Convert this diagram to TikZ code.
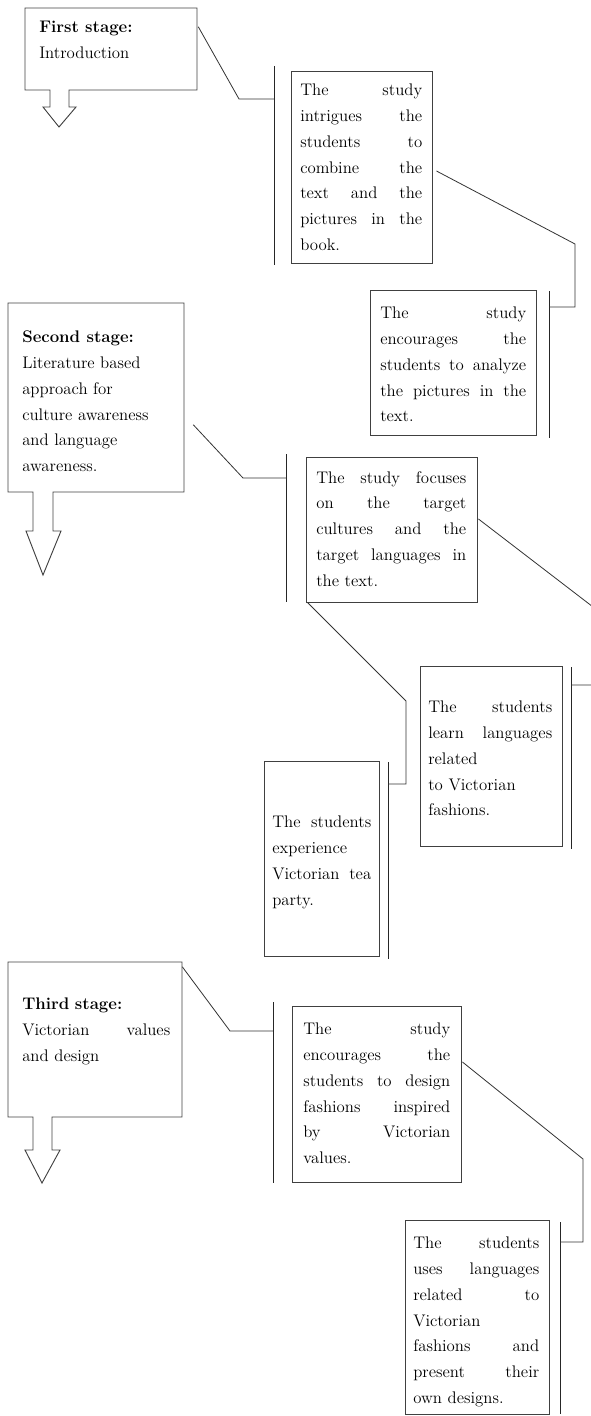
\documentclass[tikz,border=0pt]{standalone}
\usetikzlibrary{fit,calc}
\newcommand\jline[1]{\makebox[\hsize][s]{\spaceskip=.3333em plus 1fil\relax #1}}
\begin{document}
\begin{tikzpicture}[x=0.75pt,y=-0.75pt,
  frame/.style={draw=black!75, line width=0.7pt},
  box/.style={frame, inner sep=0pt},
  area/.style={inner sep=0pt},
  link/.style={draw=black!80, line width=0.6pt},
  bar/.style={draw=black!85, line width=0.7pt},
  txt/.style={anchor=north west, inner sep=0pt, align=left, font=\fontsize{12.6}{19.3}\selectfont},
  ]
\clip (0,0) rectangle (591,1416);

% ---------- stage boxes (box + arrow outline) ----------
\draw[frame] (25,8) -- (197,8) -- (197,90) -- (69,90) -- (69,107) -- (76,107) -- (59,127) -- (43,107) -- (50,107) -- (50,90) -- (25,90) -- cycle;
\node[area, fit={(25,8)(197,90)}] (s1) {};
\draw[frame] (8,303) -- (184,303) -- (184,492) -- (53,492) -- (53,531) -- (61,531) -- (43,575) -- (26,531) -- (33,531) -- (33,492) -- (8,492) -- cycle;
\node[area, fit={(8,303)(184,492)}] (s4) {};
\draw[frame] (8,962) -- (182,962) -- (182,1117) -- (52,1117) -- (52,1150) -- (60,1150) -- (42,1183) -- (25,1150) -- (33,1150) -- (33,1117) -- (8,1117) -- cycle;
\node[area, fit={(8,962)(182,1117)}] (s8) {};

% ---------- plain boxes ----------
\node[box, fit={(291,71)(432,263)}] (b2) {};
\node[box, fit={(370,290)(536,435)}] (b3) {};
\node[box, fit={(306,457)(477,602)}] (b5) {};
\node[box, fit={(420,666)(562,846)}] (b6) {};
\node[box, fit={(264,761)(379,956)}] (b7) {};
\node[box, fit={(292,1006)(461,1182)}] (b9) {};
\node[box, fit={(405,1220)(549,1414)}] (b10) {};

% ---------- texts ----------
\node[txt] (t1) at (39,21) {\textbf{First stage:}\\Introduction};
\node[txt, text width=91.5pt] (t2) at (300,84) {\jline{The study}\\\jline{intrigues the}\\\jline{students to}\\\jline{combine the}\\\jline{text and the}\\\jline{pictures in the}\\book.};
\node[txt, text width=109.5pt] (t3) at (380,307) {\jline{The study}\\\jline{encourages the}\\\jline{students to analyze}\\\jline{the pictures in the}\\text.};
\node[txt] (t4) at (22,331) {\textbf{Second stage:}\\Literature based\\approach for\\culture awareness\\and language\\awareness.};
\node[txt, text width=112.5pt] (t5) at (316,471) {\jline{The study focuses}\\\jline{on the target}\\\jline{cultures and the}\\\jline{target languages in}\\the text.};
\node[txt, text width=93pt] (t6) at (428,701) {\jline{The students}\\\jline{learn languages}\\related\\to Victorian\\fashions.};
\node[txt, text width=74.25pt] (t7) at (272,816) {\jline{The students}\\experience\\\jline{Victorian tea}\\party.};
\node[txt, text width=111pt] (t8) at (22,998) {\textbf{Third stage:}\\\jline{Victorian values}\\and design};
\node[txt, text width=110.25pt] (t9) at (303,1023) {\jline{The study}\\\jline{encourages the}\\\jline{students to design}\\\jline{fashions inspired}\\\jline{by Victorian}\\values.};
\node[txt, text width=94.5pt] (t10) at (413,1237) {\jline{The students}\\\jline{uses languages}\\\jline{related to}\\Victorian\\\jline{fashions and}\\\jline{present their}\\own designs.};

% ---------- bars ----------
\coordinate (bar1a) at (274,66);   \coordinate (bar1b) at (274,265);
\coordinate (bar2a) at (549,291);  \coordinate (bar2b) at (549,438);
\coordinate (bar3a) at (286,454);  \coordinate (bar3b) at (286,602);
\coordinate (bar4a) at (571,667);  \coordinate (bar4b) at (571,849);
\coordinate (bar5a) at (388,762);  \coordinate (bar5b) at (388,959);
\coordinate (bar6a) at (273,1002); \coordinate (bar6b) at (273,1183);
\coordinate (bar7a) at (560,1222); \coordinate (bar7b) at (560,1414);
\foreach \i in {1,...,7} { \draw[bar] (bar\i a) -- (bar\i b); }

% ---------- junctions on bars ----------
\coordinate (j1) at (274,99);
\coordinate (j2) at (549,307);
\coordinate (j3) at (286,478);
\coordinate (j4) at (571,685);
\coordinate (j5) at (388,784);
\coordinate (j6) at (273,1031);
\coordinate (j7) at (560,1242);

% ---------- connectors ----------
\draw[link] ($(s1.north east)+(1,19)$) -- (239,99) -- (j1);
\draw[link] ($(b2.east)+(4,4)$) -- (575,244) -- (575,307) -- (j2);
\draw[link] ($(s4.north east)+(9,122)$) -- (243,478) -- (j3);
\draw[link] ($(b5.east)+(1,-10.5)$) -- (597,610) -- (597,685) -- (j4);
\draw[link] ($(b5.south west)+(2,0)$) -- (406,701) -- (406,784) -- (j5);
\draw[link] ($(s8.north east)+(0,5)$) -- (230,1031) -- (j6);
\draw[link] ($(b9.east)+(1,-32)$) -- (583,1159) -- (583,1242) -- (j7);
\end{tikzpicture}
\end{document}
